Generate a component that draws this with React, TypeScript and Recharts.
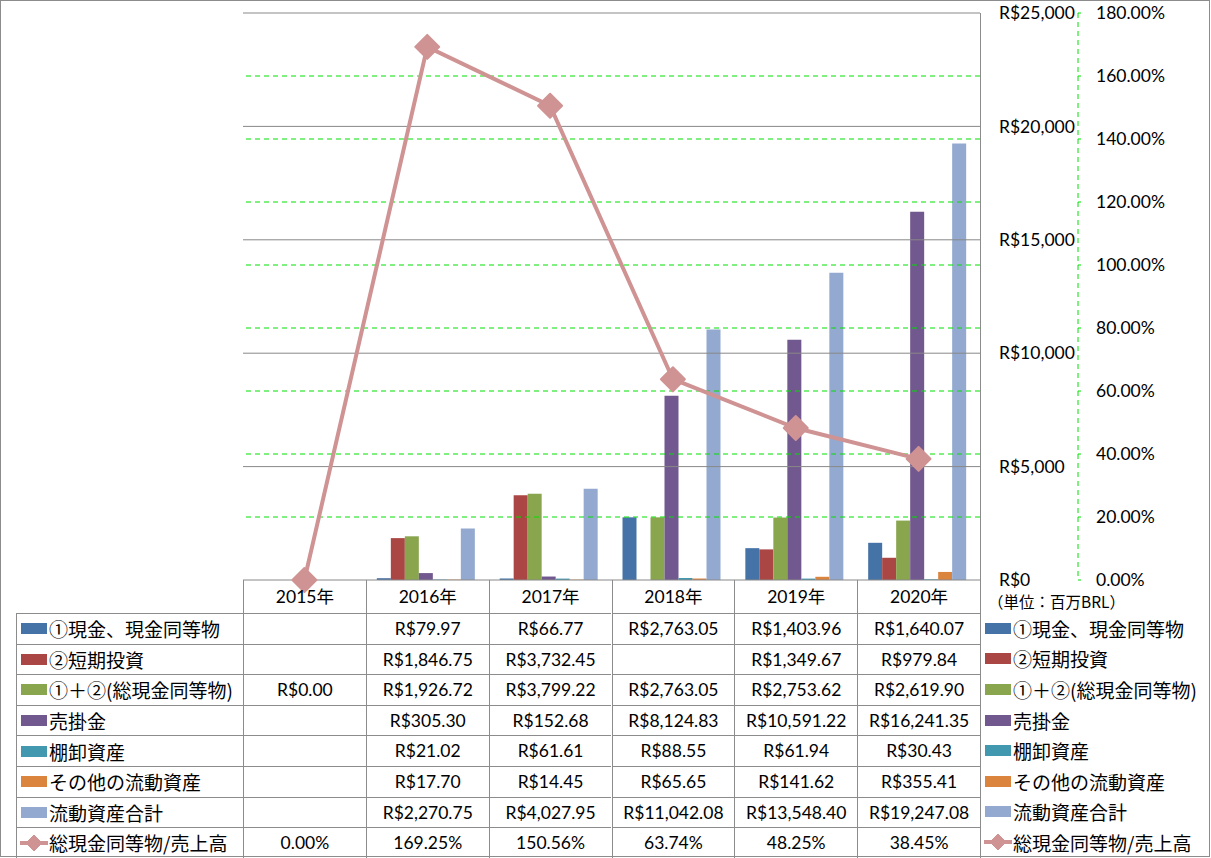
import React from "react";
import { ComposedChart, Bar, Line, XAxis, YAxis, ReferenceLine } from "recharts";

const years = ["2015年", "2016年", "2017年", "2018年", "2019年", "2020年"];
const cash = [null, 79.97, 66.77, 2763.05, 1403.96, 1640.07];
const shortInv = [null, 1846.75, 3732.45, null, 1349.67, 979.84];
const totalCash = [0, 1926.72, 3799.22, 2763.05, 2753.62, 2619.9];
const receivables = [null, 305.3, 152.68, 8124.83, 10591.22, 16241.35];
const inventory = [null, 21.02, 61.61, 88.55, 61.94, 30.43];
const otherAssets = [null, 17.7, 14.45, 65.65, 141.62, 355.41];
const currentTotal = [null, 2270.75, 4027.95, 11042.08, 13548.4, 19247.08];
const cashToSales = [0, 169.25, 150.56, 63.74, 48.25, 38.45];

const moneyTicks = [0, 5000, 10000, 15000, 20000, 25000];
const pctTicks = [0, 20, 40, 60, 80, 100, 120, 140, 160, 180];

const bars = [
  { key: "cash", name: "①現金、現金同等物", color: "#4572A7", values: cash },
  { key: "shortInv", name: "②短期投資", color: "#AA4643", values: shortInv },
  { key: "totalCash", name: "①＋②(総現金同等物)", color: "#89A54E", values: totalCash },
  { key: "receivables", name: "売掛金", color: "#71588F", values: receivables },
  { key: "inventory", name: "棚卸資産", color: "#4198AF", values: inventory },
  { key: "otherAssets", name: "その他の流動資産", color: "#DB843D", values: otherAssets },
  { key: "currentTotal", name: "流動資産合計", color: "#93A9CF", values: currentTotal },
];
const lineSeries = { key: "ratio", name: "総現金同等物/売上高", color: "#D09393", values: cashToSales };

const data = years.map((year, i) => {
  const row: Record<string, any> = { year, ratio: cashToSales[i] };
  bars.forEach((b) => (row[b.key] = b.values[i]));
  return row;
});

// layout
const W = 1211, H = 858;
const PL = 243, PR = 980, PT = 13, PB = 580;
const BW = (PR - PL) / years.length;
const ROW0 = 613, RH = 30.6;
const LINE = "#8c8c8c";
const NUM_FONT = "Lato, 'Noto Sans CJK JP', sans-serif";
const JP_FONT = "'Noto Sans CJK JP', sans-serif";

const fmtMoney = (v: number | null) =>
  v == null ? "" : "R$" + v.toLocaleString("en-US", { minimumFractionDigits: 2, maximumFractionDigits: 2 });
const fmtPct = (v: number | null) => (v == null ? "" : v.toFixed(2) + "%");

const Diamond = (props: any) => {
  const { cx, cy, index } = props;
  if (cx == null || cy == null) return <g key={index} />;
  const r = 12;
  return (
    <polygon
      key={index}
      points={`${cx},${cy - r} ${cx + r},${cy} ${cx},${cy + r} ${cx - r},${cy}`}
      fill="#D09393"
      stroke="#D09393"
      strokeWidth={2}
      strokeLinejoin="round"
    />
  );
};

function LegendKey({ color, line }: { color: string; line?: boolean }) {
  if (line) {
    return (
      <svg width={30} height={20} style={{ display: "block" }}>
        <line x1={1} y1={10} x2={29} y2={10} stroke={color} strokeWidth={4} />
        <polygon points="15,2 23,10 15,18 7,10" fill={color} stroke={color} strokeLinejoin="round" />
      </svg>
    );
  }
  return <div style={{ width: 26, height: 11, background: color, marginLeft: 2, marginRight: 2 }} />;
}

const allRows = [
  ...bars.map((b) => ({ name: b.name, color: b.color, values: b.values, line: false, fmt: fmtMoney })),
  { name: lineSeries.name, color: lineSeries.color, values: lineSeries.values, line: true, fmt: fmtPct },
];

const cellText: React.CSSProperties = {
  position: "absolute",
  display: "flex",
  alignItems: "center",
  justifyContent: "center",
  fontFamily: NUM_FONT,
  fontSize: 17.5,
  color: "#000",
  lineHeight: 1,
  boxSizing: "border-box",
};

function DataTable() {
  return (
    <div style={{ position: "absolute", left: 0, top: PB, width: W, height: H - PB }}>
      {years.map((y, i) => (
        <div
          key={y}
          style={{ ...cellText, left: PL + i * BW, top: 0, width: BW, height: ROW0 - PB, borderLeft: `1px solid ${LINE}` }}
        >
          {y}
        </div>
      ))}
      {allRows.map((r, ri) => {
        const top = ROW0 - PB + ri * RH;
        return (
          <React.Fragment key={r.name}>
            <div
              style={{
                ...cellText,
                justifyContent: "flex-start",
                left: 16,
                top,
                width: PL - 16,
                height: RH,
                borderTop: `1px solid ${LINE}`,
                borderLeft: `1px solid ${LINE}`,
                paddingLeft: 2,
              }}
            >
              <LegendKey color={r.color} line={r.line} />
              <span style={{ fontFamily: JP_FONT, fontSize: 19, whiteSpace: "nowrap" }}>{r.name}</span>
            </div>
            {r.values.map((v, ci) => (
              <div
                key={ci}
                style={{
                  ...cellText,
                  left: PL + ci * BW,
                  top,
                  width: BW,
                  height: RH,
                  borderTop: `1px solid ${LINE}`,
                  borderLeft: `1px solid ${LINE}`,
                }}
              >
                {r.fmt(v as number | null)}
              </div>
            ))}
            <div style={{ ...cellText, justifyContent: "flex-start", left: PR + 3, top, height: RH, width: W - PR - 3 }}>
              <LegendKey color={r.color} line={r.line} />
              <span style={{ fontFamily: JP_FONT, fontSize: 19, whiteSpace: "nowrap" }}>{r.name}</span>
            </div>
          </React.Fragment>
        );
      })}
      <div
        style={{
          position: "absolute",
          left: 988,
          top: 14,
          fontFamily: JP_FONT,
          fontSize: 15.5,
          lineHeight: 1,
          color: "#000",
          whiteSpace: "nowrap",
        }}
      >
        （単位：百万BRL）
      </div>
    </div>
  );
}

export default function App() {
  return (
    <div style={{ position: "absolute", left: 0, top: 0, width: W, height: H, background: "#fff", overflow: "hidden" }}>
      <ComposedChart
        width={W}
        height={H}
        data={data}
        margin={{ top: PT, right: 0, bottom: H - PB, left: PL }}
        barCategoryGap={11}
        barGap={0}
      >
        <XAxis dataKey="year" hide />
        <YAxis
          yAxisId="money"
          orientation="right"
          width={98}
          domain={[0, 25000]}
          ticks={moneyTicks}
          interval={0}
          axisLine={false}
          tickLine={false}
          tickSize={0}
          tickMargin={19}
          tickFormatter={(v: number) => "R$" + v.toLocaleString("en-US")}
          tick={{ fill: "#000", fontSize: 17.5, fontFamily: NUM_FONT }}
        />
        <YAxis
          yAxisId="pct"
          orientation="right"
          width={W - PR - 98}
          domain={[0, 180]}
          ticks={pctTicks}
          interval={0}
          axisLine={{ stroke: "#00e000", strokeDasharray: "5 4" }}
          tickLine={{ stroke: "#00e000" }}
          tickSize={3}
          tickMargin={15}
          tickFormatter={(v: number) => v.toFixed(2) + "%"}
          tick={{ fill: "#000", fontSize: 17.5, fontFamily: NUM_FONT }}
        />
        {pctTicks.slice(1, -1).map((t) => (
          <ReferenceLine key={"p" + t} yAxisId="pct" y={t} stroke="#00e000" strokeDasharray="5 4" />
        ))}
        {moneyTicks.map((t) => (
          <ReferenceLine key={"m" + t} yAxisId="money" y={t} stroke="#888" />
        ))}
        {bars.map((b) => (
          <Bar key={b.key} yAxisId="money" dataKey={b.key} name={b.name} fill={b.color} isAnimationActive={false} />
        ))}
        <Line
          yAxisId="pct"
          dataKey="ratio"
          name={lineSeries.name}
          stroke={lineSeries.color}
          strokeWidth={4}
          dot={Diamond}
          activeDot={false}
          isAnimationActive={false}
        />
      </ComposedChart>

      {/* plot right border */}
      <div style={{ position: "absolute", left: PR, top: PT, width: 1, height: H - PT, background: LINE }} />

      <DataTable />

      <div
        style={{
          position: "absolute",
          left: 0,
          top: 0,
          width: W - 1,
          height: H - 1,
          border: `1px solid ${LINE}`,
          boxSizing: "border-box",
          pointerEvents: "none",
        }}
      />
    </div>
  );
}
